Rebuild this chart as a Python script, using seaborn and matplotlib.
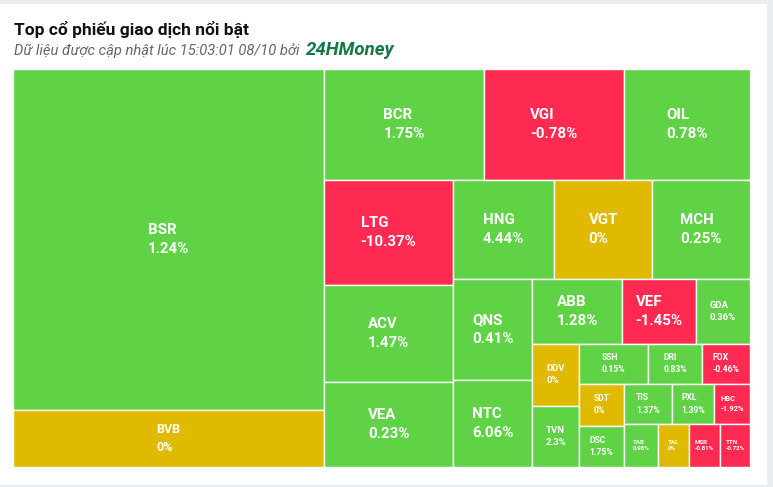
import matplotlib
matplotlib.use("Agg")
import matplotlib.pyplot as plt
from matplotlib.patches import Rectangle
import seaborn as sns

# --- data: top traded tickers, trade value (ty dong, estimated) and % change ---
tickers = ['BSR', 'BVB', 'BCR', 'VGI', 'OIL', 'LTG', 'ACV', 'VEA', 'HNG', 'VGT',
           'MCH', 'QNS', 'NTC', 'ABB', 'VEF', 'GDA', 'DDV', 'TVN', 'SSH', 'DRI',
           'FOX', 'SDT', 'DSC', 'TIS', 'PXL', 'HBC', 'TAB', 'TAL', 'MSR', 'TTN']
values = [1060.5, 177.3, 177.6, 155.4, 139.9, 135.5, 125.1, 109.7, 100.0, 97.0,
          97.0, 79.8, 68.7, 58.5, 47.5, 35.1, 29.1, 28.7, 27.6, 21.6,
          19.2, 18.9, 18.5, 19.2, 16.8, 14.4, 14.6, 13.3, 13.3, 12.9]
changes = [1.24, 0, 1.75, -0.78, 0.78, -10.37, 1.47, 0.23, 4.44, 0,
           0.25, 0.41, 6.06, 1.28, -1.45, 0.36, 0, 2.3, 0.15, 0.83,
           -0.46, 0, 1.75, 1.37, 1.39, -1.92, 0.98, 0, -0.81, -0.72]

UP, DOWN, FLAT = '#5fd246', '#ff2a52', '#dfba00'

sns.set_style('white')
plt.rcParams['font.family'] = ['Roboto', 'DejaVu Sans']

W, H = 737.0, 398.0


# --- squarified layout, direction alternates after each strip ---
def ratio(a, b):
    return max(a / b, b / a)


class Group:
    def __init__(self, w, h):
        self.w, self.h, self.d = w, h, 0
        self.nH = self.lH = 0.0
        self.reset()

    def reset(self):
        self.total, self.nW, self.lW, self.el = 0.0, 0.0, 0.0, []

    def add(self, a):
        last = self.el[-1] if self.el else None
        self.total += a
        self.worse = False
        if self.d == 0:
            self.lW, self.nW = self.nW, self.total / self.h
            if last is not None:
                self.worse = ratio(self.nW, last / self.nW) > ratio(self.lW, last / self.lW)
        else:
            self.lH, self.nH = self.nH, self.total / self.w
            if last is not None:
                self.worse = ratio(last / self.nH, self.nH) > ratio(last / self.lH, self.lH)
        self.el.append(a)


def place(g, pos, rects, last):
    gW, gH = (g.nW, g.nH) if last else (g.lW, g.lH)
    items = g.el if last else g.el[:-1]
    keep = None if last else g.el[-1]
    for a in items:
        if g.d == 0:
            rects.append((pos[0], pos[1], gW, a / gW))
            pos[1] += a / gW
        else:
            rects.append((pos[0], pos[1], a / gH, gH))
            pos[0] += a / gH
    g.reset()
    if g.d == 0:
        g.w -= gW
    else:
        g.h -= gH
    pos[0], pos[1] = W - g.w, H - g.h
    g.d = 1 - g.d
    if keep is not None:
        g.add(keep)


def treemap(vals):
    tot = sum(vals)
    g, pos, rects = Group(W, H), [0.0, 0.0], []
    for i, v in enumerate(vals):
        g.add(W * H * v / tot)
        if g.worse:
            place(g, pos, rects, False)
        if i == len(vals) - 1:
            place(g, pos, rects, True)
    return rects


rects = treemap(values)
colors = [UP if c > 0 else DOWN if c < 0 else FLAT for c in changes]

fig = plt.figure(figsize=(7.73, 4.87), dpi=100, facecolor='#eaedf0')
fig.patches.append(Rectangle((0, 2 / 487), 767 / 773, 481 / 487, transform=fig.transFigure,
                             facecolor='white', edgecolor='none', zorder=-5))

ax = fig.add_axes([13 / 773, 20 / 487, W / 773, H / 487])
ax.bar([r[0] for r in rects], [r[3] for r in rects], width=[r[2] for r in rects],
       bottom=[r[1] for r in rects], align='edge', color=colors,
       edgecolor='white', linewidth=1)
ax.set_xlim(0, W)
ax.set_ylim(H, 0)
ax.axis('off')


def label_size(w, h):
    m = min(w, h)
    if m >= 60:
        return 10.8
    if m >= 55:
        return 9
    if m >= 45:
        return 6.8
    if m >= 38:
        return 6.2
    if m >= 35:
        return 5.4
    return 4.4


for (x, y, w, h), t, c in zip(rects, tickers, changes):
    fs = label_size(w, h)
    ax.text(x + w / 2, y + h / 2, f"{t}\n{c:g}%", ha='center', va='center',
            multialignment='left', color='white', fontweight='bold',
            fontsize=fs, linespacing=1.45)

# --- header ---
fig.text(14 / 773, 1 - 35 / 487, 'Top cổ phiếu giao dịch nổi bật', fontsize=12.5,
         fontweight='bold', color='#111111', va='baseline')
fig.text(14 / 773, 1 - 55 / 487, 'Dữ liệu được cập nhật lúc 15:03:01 08/10 bởi',
         fontsize=10.6, style='italic', color='#666666', va='baseline')
fig.text(306 / 773, 1 - 55 / 487, '24HMoney', fontsize=13.4, style='italic',
         fontweight='bold', color='#137a47', va='baseline')

fig.savefig('out.png', dpi=100, facecolor=fig.get_facecolor())
